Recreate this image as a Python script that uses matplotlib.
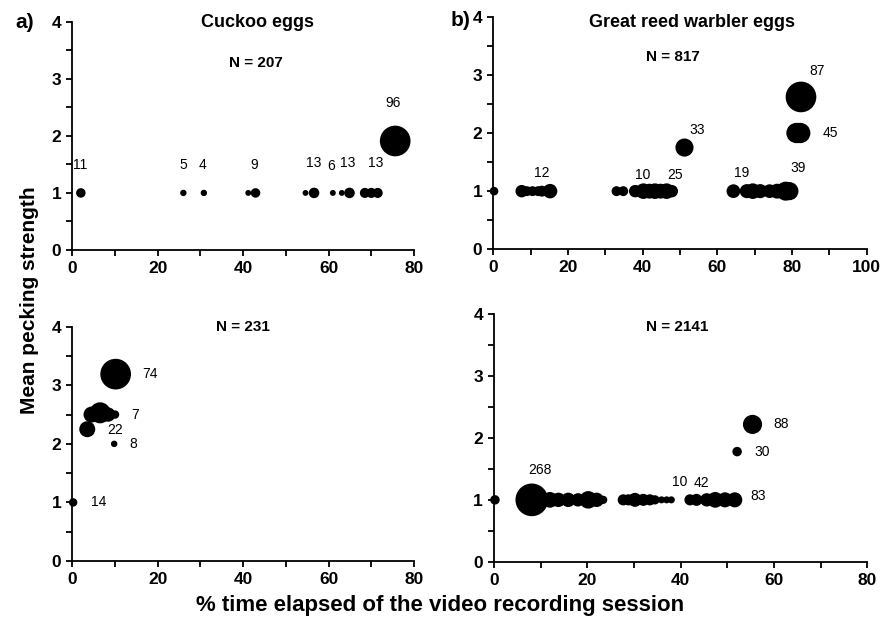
import numpy as np
import matplotlib.pyplot as plt
from matplotlib.ticker import MultipleLocator

plt.rcParams['font.family'] = ['Liberation Sans', 'DejaVu Sans']

# --- data: bubble x (% time), y (mean pecking strength), n (bubble weight)
# a) cuckoo eggs, N = 207
a_x = [2.0, 26.0, 30.8, 41.2, 42.9, 54.6, 56.6, 61.0, 63.1, 64.9, 68.5, 70.0, 71.5, 75.6]
a_y = [1, 1, 1, 1, 1, 1, 1, 1, 1, 1, 1, 1, 1, 1.91]
a_n = [7, 2.5, 2.5, 2, 7, 2, 9, 2, 2, 9, 8, 8, 8, 96]
a_lab = ['11', '5', '4', '9', '13', '6', '13', '13', '96']
a_lx = [1.8, 26.0, 30.5, 42.6, 56.4, 60.5, 64.4, 71.1, 75.2]
a_ly = [1.49, 1.49, 1.49, 1.49, 1.52, 1.47, 1.52, 1.52, 2.58]

# b) great reed warbler eggs, N = 817
b_x = [0.2, 7.6, 9.0, 10.5, 12.0, 13.0, 15.2, 33.0, 34.8, 38.0, 40.2, 41.8, 43.3, 44.8, 46.4, 47.8, 51.2,
       64.3, 67.9, 69.5, 71.5, 74.0, 76.0, 78.3, 79.3, 81.2, 82.2, 82.4]
b_y = [1, 1, 1, 1, 1, 1, 1, 1, 1, 1, 1, 1, 1, 1, 1, 1, 1.75,
       1, 1, 1, 1, 1, 1, 1, 1, 2.0, 2.0, 2.62]
b_n = [5, 12, 7, 7, 7, 9, 17, 7, 7, 12, 20, 18, 20, 18, 20, 12, 28,
       15, 16, 20, 16, 15, 18, 31, 28, 36, 36, 87]
b_lab = ['12', '10', '25', '33', '19', '39', '45', '87']
b_lx = [13.0, 40.0, 48.7, 54.5, 66.5, 81.7, 90.2, 86.6]
b_ly = [1.31, 1.28, 1.28, 2.05, 1.31, 1.39, 2.0, 3.07]

# c) cuckoo eggs, N = 231
c_x = [0.2, 3.5, 4.5, 6.5, 8.4, 10.0, 9.8, 10.15]
c_y = [1.0, 2.25, 2.5, 2.53, 2.5, 2.5, 2.0, 3.19]
c_n = [4, 18, 18, 33, 14, 4, 2, 74]
c_lab = ['14', '22', '7', '8', '74']
c_lx = [6.1, 10.0, 14.7, 14.3, 18.2]
c_ly = [1.0, 2.24, 2.5, 2.0, 3.19]

# d) great reed warbler eggs, N = 2141
d_x = [0.2, 8.1, 12.0, 13.8, 15.9, 18.0, 20.2, 22.0, 23.4,
       27.7, 28.8, 30.2, 32.0, 33.4, 34.5, 35.9, 37.0, 38.0,
       42.0, 43.4, 45.6, 47.4, 49.5, 51.6, 52.1, 55.4]
d_y = [1, 1, 1, 1, 1, 1, 1, 1, 1,
       1, 1, 1, 1, 1, 1, 1, 1, 1,
       1, 1, 1, 1, 1, 1, 1.78, 2.22]
d_n = [17, 268, 55, 45, 45, 38, 70, 45, 12,
       25, 25, 42, 30, 25, 16, 8, 8, 8,
       25, 30, 38, 55, 50, 50, 17, 85]
d_lab = ['268', '10', '42', '83', '30', '88']
d_lx = [9.9, 39.9, 44.5, 56.6, 57.4, 61.6]
d_ly = [1.48, 1.29, 1.27, 1.06, 1.78, 2.22]

W, H = 893, 628
fig = plt.figure(figsize=(W / 100, H / 100), dpi=100)


def px_axes(left, top, right, bottom):
    return fig.add_axes([left / W, 1 - bottom / H, (right - left) / W, (bottom - top) / H])


panels = [
    (px_axes(72.3, 21.7, 414, 250), a_x, a_y, a_n, a_lab, a_lx, a_ly, 80, 'N = 207', (43, 3.28), 29),
    (px_axes(493.3, 16.7, 866.7, 249.3), b_x, b_y, b_n, b_lab, b_lx, b_ly, 100, 'N = 817', (48, 3.31), 29),
    (px_axes(72.3, 326.7, 414, 561), c_x, c_y, c_n, c_lab, c_lx, c_ly, 80, 'N = 231', (39.9, 4.0), 29),
    (px_axes(494, 314.3, 867.3, 561.7), d_x, d_y, d_n, d_lab, d_lx, d_ly, 80, 'N = 2141', (39.2, 3.8), 31),
]

for ax, x, y, n, lab, lx, ly, xmax, ntxt, npos, dmax in panels:
    n = np.asarray(n, dtype=float)
    # bubble area proportional to n, largest bubble ~dmax px across
    s = (dmax * 0.72) ** 2 * n / n.max()
    ax.scatter(x, y, s=s, c='black', edgecolors='black', linewidths=1.2,
               clip_on=False, zorder=3)
    for t, tx, ty in zip(lab, lx, ly):
        ax.text(tx, ty, t, fontsize=10, ha='center', va='center')
    ax.text(npos[0], npos[1], ntxt, fontsize=11, fontweight='bold', ha='center', va='center')

    ax.set_xlim(0, xmax)
    ax.set_ylim(0, 4)
    ax.xaxis.set_major_locator(MultipleLocator(20))
    ax.xaxis.set_minor_locator(MultipleLocator(10))
    ax.yaxis.set_major_locator(MultipleLocator(1))
    ax.yaxis.set_minor_locator(MultipleLocator(0.5))
    ax.tick_params(which='both', direction='out', length=4, width=1.3, color='black')
    ax.tick_params(labelsize=12.5, pad=4)
    for lbl in ax.get_xticklabels() + ax.get_yticklabels():
        lbl.set_fontweight('bold')
    for side in ['top', 'right']:
        ax.spines[side].set_visible(False)
    for side in ['left', 'bottom']:
        ax.spines[side].set_linewidth(1.3)

fig.text(257.5 / W, 1 - 22.7 / H, 'Cuckoo eggs', fontsize=13, fontweight='bold', ha='center', va='center')
fig.text(691.7 / W, 1 - 22.7 / H, 'Great reed warbler eggs', fontsize=13, fontweight='bold',
         ha='center', va='center')
fig.text(24.5 / W, 1 - 22 / H, 'a)', fontsize=15, fontweight='bold', ha='center', va='center')
fig.text(461 / W, 1 - 20 / H, 'b)', fontsize=15, fontweight='bold', ha='center', va='center')
fig.text(30 / W, 1 - 300 / H, 'Mean pecking strength', fontsize=15, fontweight='bold',
         rotation=90, ha='center', va='center')
fig.text(440 / W, 1 - 606 / H, '% time elapsed of the video recording session', fontsize=16,
         fontweight='bold', ha='center', va='center')

fig.savefig('out.png', dpi=100)
